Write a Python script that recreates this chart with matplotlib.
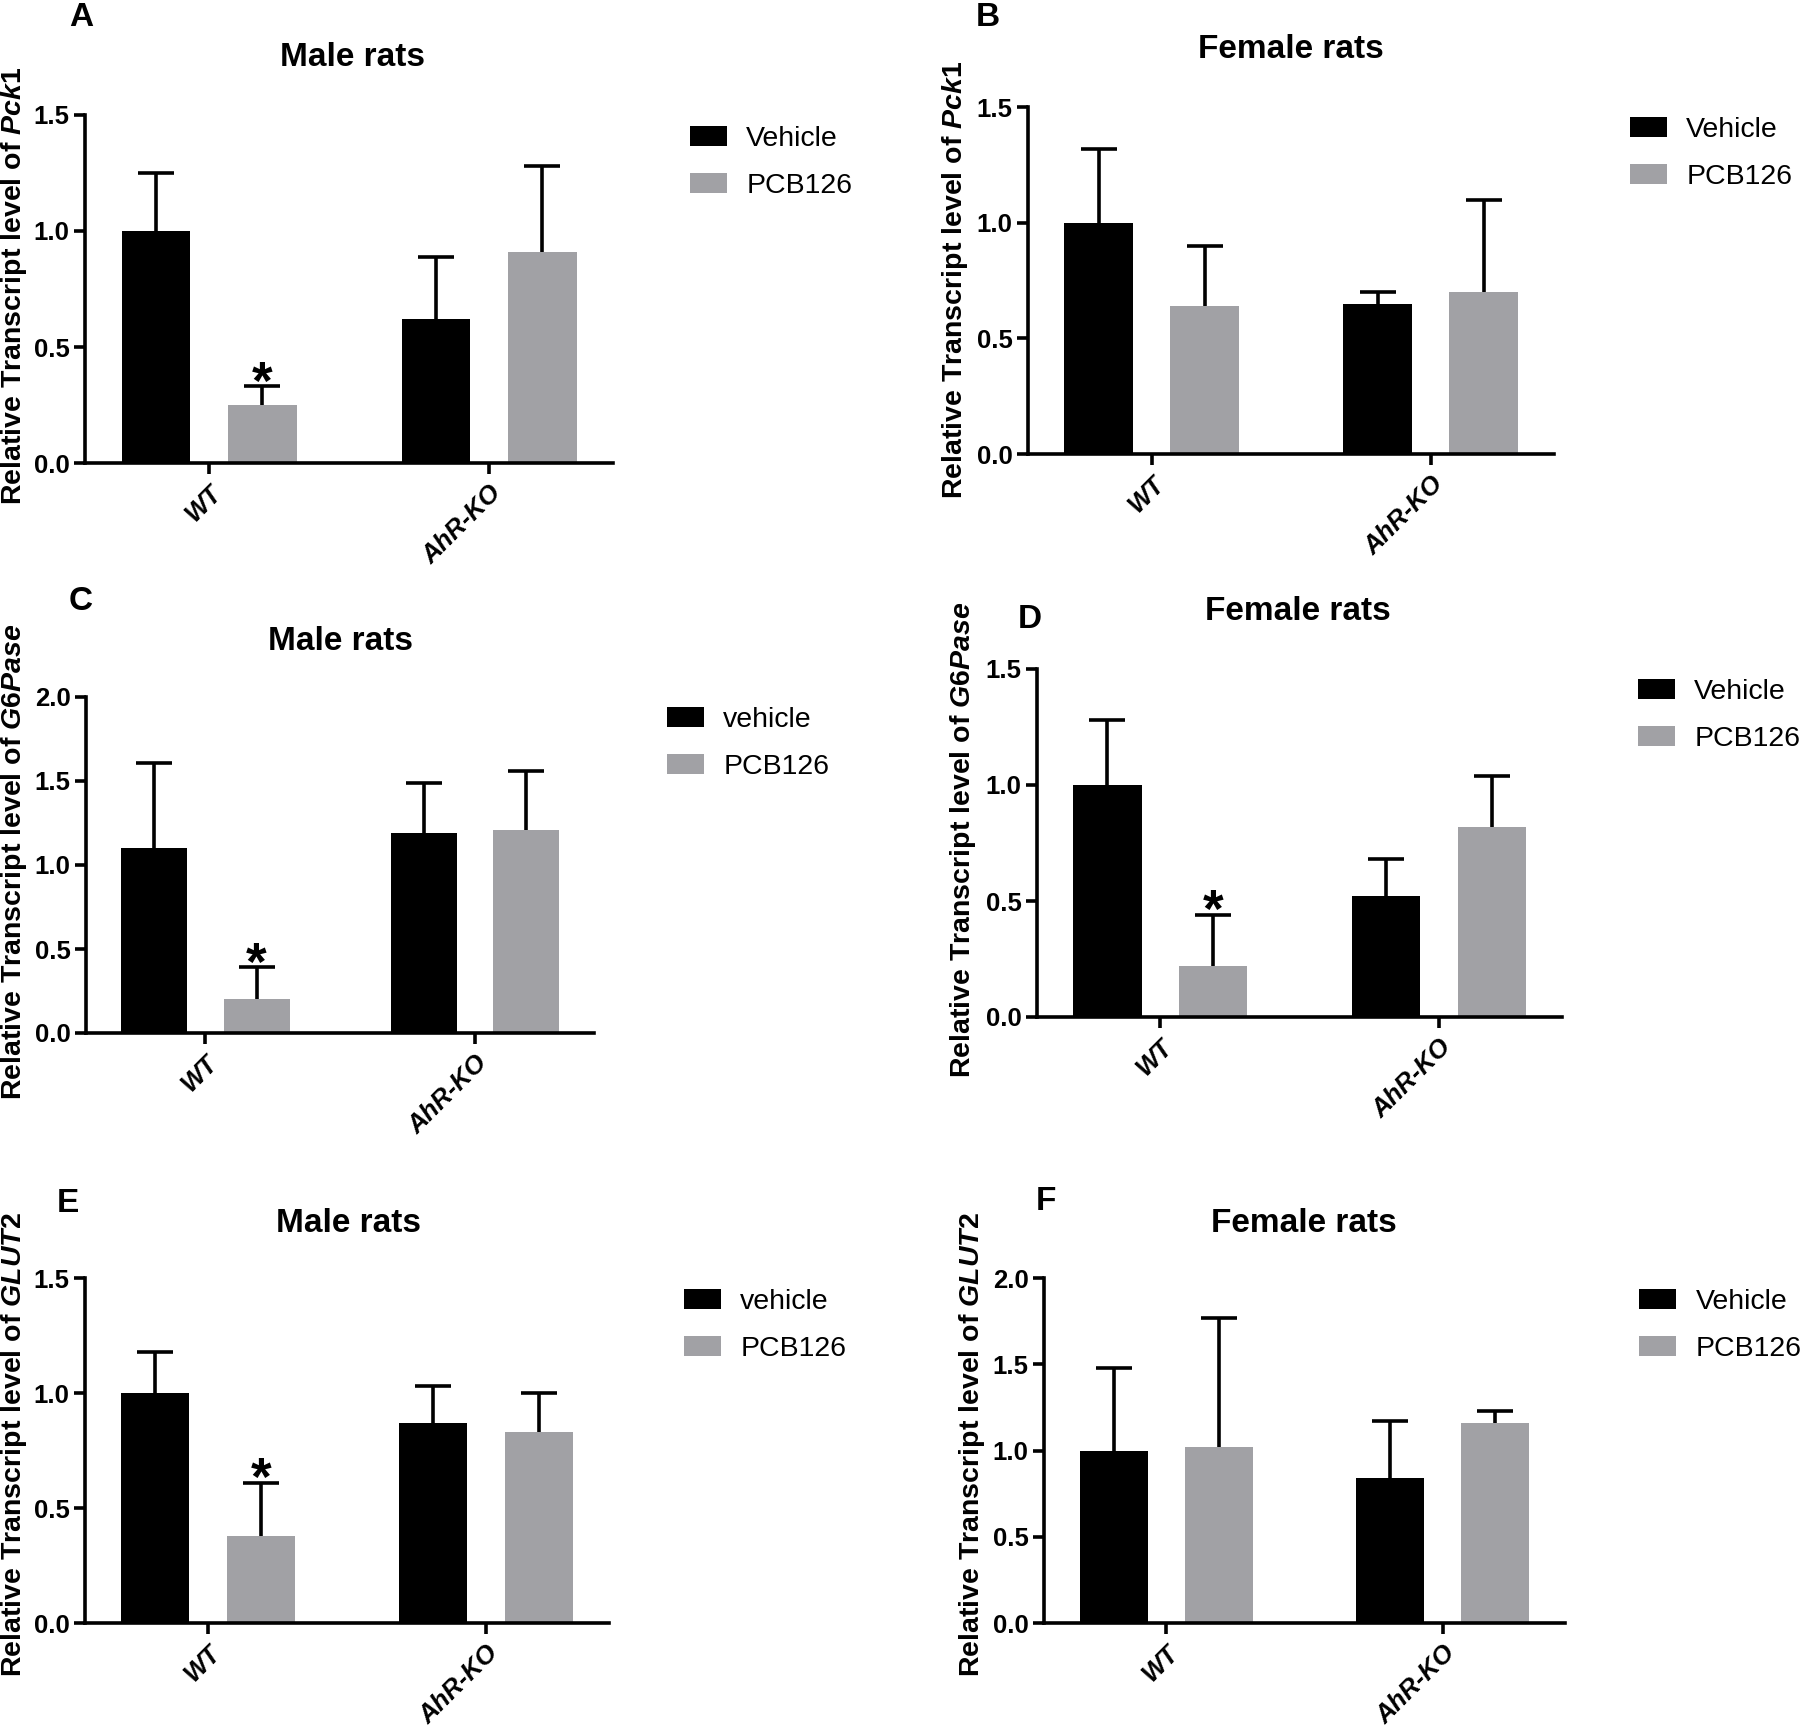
import matplotlib
matplotlib.use('Agg')
import matplotlib.pyplot as plt

plt.rcParams['font.family'] = ['Liberation Sans', 'DejaVu Sans']
plt.rcParams['mathtext.fontset'] = 'custom'
plt.rcParams['mathtext.it'] = 'Liberation Sans:italic:bold'
plt.rcParams['mathtext.rm'] = 'Liberation Sans:bold'
plt.rcParams['mathtext.bf'] = 'Liberation Sans:bold'

W, H = 1800, 1726

# ---------------- data ----------------
groups = ['WT', 'AhR-KO']

# Panel A: Pck1, male
pck1_male_vehicle = [1.00, 0.62]
pck1_male_vehicle_err = [0.25, 0.27]
pck1_male_pcb = [0.25, 0.91]
pck1_male_pcb_err = [0.08, 0.37]

# Panel B: Pck1, female
pck1_female_vehicle = [1.00, 0.65]
pck1_female_vehicle_err = [0.32, 0.05]
pck1_female_pcb = [0.64, 0.70]
pck1_female_pcb_err = [0.26, 0.40]

# Panel C: G6Pase, male
g6p_male_vehicle = [1.10, 1.19]
g6p_male_vehicle_err = [0.51, 0.30]
g6p_male_pcb = [0.20, 1.21]
g6p_male_pcb_err = [0.19, 0.35]

# Panel D: G6Pase, female
g6p_female_vehicle = [1.00, 0.52]
g6p_female_vehicle_err = [0.28, 0.16]
g6p_female_pcb = [0.22, 0.82]
g6p_female_pcb_err = [0.22, 0.22]

# Panel E: GLUT2, male
glut2_male_vehicle = [1.00, 0.87]
glut2_male_vehicle_err = [0.18, 0.16]
glut2_male_pcb = [0.38, 0.83]
glut2_male_pcb_err = [0.23, 0.17]

# Panel F: GLUT2, female
glut2_female_vehicle = [1.00, 0.84]
glut2_female_vehicle_err = [0.48, 0.33]
glut2_female_pcb = [1.02, 1.16]
glut2_female_pcb_err = [0.75, 0.07]

# significance (* on PCB126 bar of WT group)
sig_A = [True, False]
sig_B = [False, False]
sig_C = [True, False]
sig_D = [True, False]
sig_E = [True, False]
sig_F = [False, False]

BLACK = '#000000'
GREY = '#a1a1a5'

panels = [
    dict(letter='A', title='Male rats', gene='Pck1', legend=['Vehicle', 'PCB126'],
         veh=pck1_male_vehicle, veh_err=pck1_male_vehicle_err,
         pcb=pck1_male_pcb, pcb_err=pck1_male_pcb_err, sig=sig_A, ymax=1.5,
         box=(85, 613, 463, 115), title_xy=(352, 57), letter_xy=(81, 17),
         ylab_xy=(14, 286), leg_xy=(690, 126)),
    dict(letter='B', title='Female rats', gene='Pck1', legend=['Vehicle', 'PCB126'],
         veh=pck1_female_vehicle, veh_err=pck1_female_vehicle_err,
         pcb=pck1_female_pcb, pcb_err=pck1_female_pcb_err, sig=sig_B, ymax=1.5,
         box=(1028, 1554, 454, 107), title_xy=(1291, 50), letter_xy=(988, 17),
         ylab_xy=(955, 280), leg_xy=(1630, 117)),
    dict(letter='C', title='Male rats', gene='G6Pase', legend=['vehicle', 'PCB126'],
         veh=g6p_male_vehicle, veh_err=g6p_male_vehicle_err,
         pcb=g6p_male_pcb, pcb_err=g6p_male_pcb_err, sig=sig_C, ymax=2.0,
         box=(86, 594, 1033, 697), title_xy=(340, 641), letter_xy=(81, 602),
         ylab_xy=(14, 862), leg_xy=(667, 707)),
    dict(letter='D', title='Female rats', gene='G6Pase', legend=['Vehicle', 'PCB126'],
         veh=g6p_female_vehicle, veh_err=g6p_female_vehicle_err,
         pcb=g6p_female_pcb, pcb_err=g6p_female_pcb_err, sig=sig_D, ymax=1.5,
         box=(1037, 1562, 1017, 669), title_xy=(1298, 612), letter_xy=(1030, 619),
         ylab_xy=(963, 840), leg_xy=(1638, 679)),
    dict(letter='E', title='Male rats', gene='GLUT2', legend=['vehicle', 'PCB126'],
         veh=glut2_male_vehicle, veh_err=glut2_male_vehicle_err,
         pcb=glut2_male_pcb, pcb_err=glut2_male_pcb_err, sig=sig_E, ymax=1.5,
         box=(85, 609, 1623, 1278), title_xy=(349, 1223), letter_xy=(68, 1203),
         ylab_xy=(14, 1445), leg_xy=(684, 1289)),
    dict(letter='F', title='Female rats', gene='GLUT2', legend=['Vehicle', 'PCB126'],
         veh=glut2_female_vehicle, veh_err=glut2_female_vehicle_err,
         pcb=glut2_female_pcb, pcb_err=glut2_female_pcb_err, sig=sig_F, ymax=2.0,
         box=(1044, 1565, 1623, 1278), title_xy=(1304, 1223), letter_xy=(1046, 1202),
         ylab_xy=(972, 1445), leg_xy=(1639, 1289)),
]

fig = plt.figure(figsize=(W / 100, H / 100), dpi=100)
fig.patch.set_facecolor('white')

OFF = 0.19
BW = 0.245
LW = 2.6


def upper_errorbar(ax, xs, means, errs):
    _, caps, _ = ax.errorbar(xs, means, yerr=[[0] * len(xs), errs], fmt='none',
                             ecolor='black', elinewidth=LW, capsize=13,
                             capthick=LW, zorder=3)
    # hide the caps sitting on the bar tops (lower side)
    for c in caps:
        yd = list(c.get_ydata())
        if all(abs(a - b) < 1e-9 for a, b in zip(yd, means)):
            c.set_visible(False)


for p in panels:
    l, r, b, t = p['box']
    ax = fig.add_axes([l / W, 1 - b / H, (r - l) / W, (b - t) / H])
    x = list(range(len(groups)))
    xv = [xi - OFF for xi in x]
    xp = [xi + OFF for xi in x]
    bv = ax.bar(xv, p['veh'], width=BW, color=BLACK, label=p['legend'][0], zorder=2)
    bp = ax.bar(xp, p['pcb'], width=BW, color=GREY, label=p['legend'][1], zorder=2)
    upper_errorbar(ax, xv, p['veh'], p['veh_err'])
    upper_errorbar(ax, xp, p['pcb'], p['pcb_err'])
    for i, s in enumerate(p['sig']):
        if s:
            top = p['pcb'][i] + p['pcb_err'][i]
            ax.annotate('*', xy=(xp[i], top), xytext=(0, -9), textcoords='offset points',
                        ha='center', va='baseline', fontsize=38, fontweight='bold')

    ax.set_xlim(-0.443, 1.442)
    ax.set_ylim(0, p['ymax'])
    ticks = [i * 0.5 for i in range(int(round(p['ymax'] / 0.5)) + 1)]
    ax.set_yticks(ticks)
    ax.set_yticklabels(['%.1f' % v for v in ticks], fontsize=18.5, fontweight='bold')
    ax.set_xticks(x)
    ax.set_xticklabels(groups, rotation=45, ha='right', rotation_mode='anchor',
                       fontsize=18.5, fontweight='bold', fontstyle='italic')
    for side in ['top', 'right']:
        ax.spines[side].set_visible(False)
    for side in ['left', 'bottom']:
        ax.spines[side].set_linewidth(LW)
    ax.tick_params(axis='y', length=8, width=LW, pad=3)
    ax.tick_params(axis='x', length=8, width=LW, pad=5)

    ax.legend(handles=[bv, bp], labels=p['legend'], loc='upper left',
              bbox_to_anchor=(p['leg_xy'][0] / W, 1 - p['leg_xy'][1] / H),
              bbox_transform=fig.transFigure, frameon=False, borderpad=0,
              borderaxespad=0, handlelength=1.3, handleheight=0.67,
              handletextpad=0.68, labelspacing=0.74, fontsize=20.5)

    fig.text(p['title_xy'][0] / W, 1 - p['title_xy'][1] / H, p['title'],
             ha='center', va='center', fontsize=24, fontweight='bold')
    fig.text(p['letter_xy'][0] / W, 1 - p['letter_xy'][1] / H, p['letter'],
             ha='center', va='center', fontsize=24, fontweight='bold')
    fig.text(p['ylab_xy'][0] / W, 1 - p['ylab_xy'][1] / H,
             'Relative Transcript level of $\\mathit{%s}$' % p['gene'],
             ha='center', va='center', rotation=90, fontsize=20.5, fontweight='bold')

fig.savefig('out.png', dpi=100, facecolor='white')
